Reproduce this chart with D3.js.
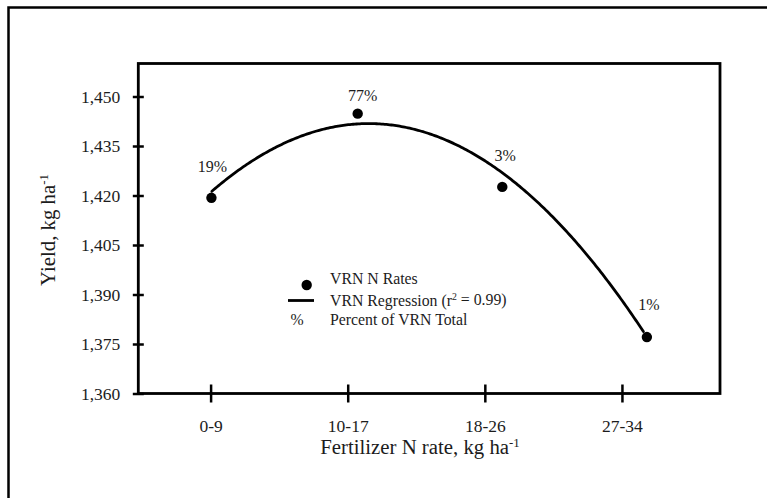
<!DOCTYPE html>
<html>
<head>
<meta charset="utf-8">
<script src="https://cdn.jsdelivr.net/npm/d3@7"></script>
<style>
  html, body { margin: 0; padding: 0; background: #fff; }
  svg text { font-family: "Liberation Serif", "Times New Roman", "DejaVu Serif", serif !important; }
</style>
</head>
<body>
<svg id="chart" width="767" height="498"></svg>
<script>
// Fertilizer N rate classes (kg/ha) and the rate each class tick sits at
const rateClasses = ["0-9", "10-17", "18-26", "27-34"];
const classTickRates = [4.35, 12.6, 20.85, 29.1];

// Mean applied N rate and yield for each VRN class
const vrnRates = [4.4, 13.2, 21.9, 30.6];
const vrnYield = [1419.3, 1444.8, 1422.6, 1377.1];
const vrnShare = ["19%", "77%", "3%", "1%"];

// Quadratic regression: yield = a + b*N + c*N^2, fitted over this N range
const regCoef = [1397.5, 6.392, -0.2306];
const regRange = [4.43, 30.39];

// Yield axis
const yieldTicks = [1360, 1375, 1390, 1405, 1420, 1435, 1450];
const yieldDomain = [1360, 1460];

const svg = d3.select("#chart");
const ink = "#1c1c1c";

// Outer frame
svg.append("rect")
  .attr("x", 8.5).attr("y", 7.5)
  .attr("width", 800).attr("height", 520)
  .attr("fill", "none").attr("stroke", "#000").attr("stroke-width", 2.5);

const plotLeft = 138.3, plotRight = 720, plotTop = 63.5, plotBottom = 393.5;

const x = d3.scaleLinear().domain([0, 35]).range([plotLeft, plotRight]);
const y = d3.scaleLinear().domain(yieldDomain).range([plotBottom, plotTop]);

// Plot frame
svg.append("rect")
  .attr("x", plotLeft).attr("y", plotTop)
  .attr("width", plotRight - plotLeft).attr("height", plotBottom - plotTop)
  .attr("fill", "none").attr("stroke", "#000").attr("stroke-width", 2.8);

// Y axis
const yAxis = svg.append("g")
  .attr("transform", `translate(${plotLeft},0)`)
  .call(d3.axisLeft(y).tickValues(yieldTicks).tickFormat(d3.format(","))
    .tickSizeInner(5.5).tickSizeOuter(0).tickPadding(12.5));
yAxis.attr("font-family", null);
yAxis.select(".domain").remove();
yAxis.selectAll(".tick line").attr("x1", -5.5).attr("x2", 5.5)
  .attr("stroke", "#000").attr("stroke-width", 2.5);
yAxis.selectAll(".tick text")
  .attr("fill", ink).attr("font-size", 17.5);

// X axis
const xAxis = svg.append("g")
  .attr("transform", `translate(0,${plotBottom})`)
  .call(d3.axisBottom(x).tickValues(classTickRates)
    .tickFormat((d, i) => rateClasses[i])
    .tickSizeInner(9).tickSizeOuter(0).tickPadding(17));
xAxis.attr("font-family", null);
xAxis.select(".domain").remove();
xAxis.selectAll(".tick line").attr("y1", -9).attr("y2", 9)
  .attr("stroke", "#000").attr("stroke-width", 2.5);
xAxis.selectAll(".tick text")
  .attr("fill", ink).attr("font-size", 17.5);

// Axis titles with superscript units
const xTitle = svg.append("text")
  .attr("x", 420).attr("y", 454)
  .attr("text-anchor", "middle").attr("font-size", 20.8).attr("fill", ink);
xTitle.append("tspan").text("Fertilizer N rate, kg ha");
xTitle.append("tspan").attr("font-size", "0.62em").attr("dy", "-0.55em").text("-1");

const yTitle = svg.append("text")
  .attr("transform", "translate(55,230) rotate(-90)")
  .attr("text-anchor", "middle").attr("font-size", 20.8).attr("fill", ink);
yTitle.append("tspan").text("Yield, kg ha");
yTitle.append("tspan").attr("font-size", "0.62em").attr("dy", "-0.55em").text("-1");

// Regression curve
const regY = n => regCoef[0] + regCoef[1] * n + regCoef[2] * n * n;
const curveN = d3.range(regRange[0], regRange[1], 0.1).concat([regRange[1]]);
svg.append("path")
  .datum(curveN)
  .attr("fill", "none").attr("stroke", "#000").attr("stroke-width", 2.8)
  .attr("stroke-linecap", "round")
  .attr("d", d3.line().x(n => x(n)).y(n => y(regY(n))).curve(d3.curveLinear));

// VRN class means
const points = vrnRates.map((r, i) => ({ r, v: vrnYield[i], s: vrnShare[i] }));
svg.selectAll("circle.pt").data(points).join("circle")
  .attr("class", "pt")
  .attr("cx", d => x(d.r)).attr("cy", d => y(d.v)).attr("r", 5.2)
  .attr("fill", "#000");

// Share of VRN area above each point
const labelNudge = [[1, -26], [5, -12.5], [3, -25.5], [2, -27.5]];
svg.selectAll("text.share").data(points).join("text")
  .attr("class", "share")
  .attr("x", (d, i) => x(d.r) + labelNudge[i][0])
  .attr("y", (d, i) => y(d.v) + labelNudge[i][1])
  .attr("text-anchor", "middle").attr("font-size", 16).attr("fill", ink)
  .text(d => d.s);

// Legend
const lg = svg.append("g").attr("font-size", 15.8).attr("fill", ink);
lg.append("circle").attr("cx", 306.7).attr("cy", 285).attr("r", 5.2).attr("fill", "#000");
lg.append("line").attr("x1", 288).attr("x2", 314).attr("y1", 300.5).attr("y2", 300.5)
  .attr("stroke", "#000").attr("stroke-width", 2.8);
lg.append("text").attr("x", 297).attr("y", 324.5).attr("text-anchor", "middle").text("%");
lg.append("text").attr("x", 330).attr("y", 284).text("VRN N Rates");
const regLabel = lg.append("text").attr("x", 330).attr("y", 305.5);
regLabel.append("tspan").text("VRN Regression (r");
regLabel.append("tspan").attr("font-size", "0.62em").attr("dy", "-0.55em").text("2");
regLabel.append("tspan").attr("dy", "0.34em").text(" = 0.99)");
lg.append("text").attr("x", 330).attr("y", 324.5).text("Percent of VRN Total");
</script>
</body>
</html>
